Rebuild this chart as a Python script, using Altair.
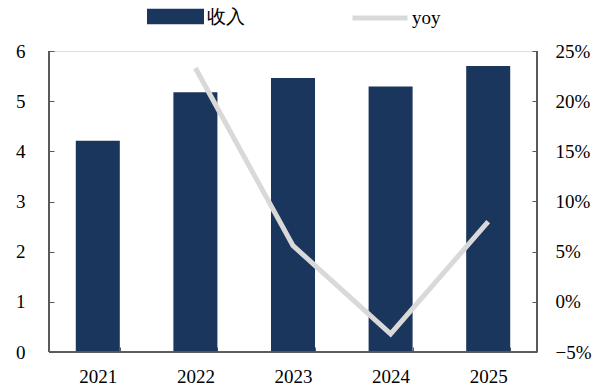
import altair as alt
import pandas as pd

years = ["2021", "2022", "2023", "2024", "2025"]
revenue = [4.21, 5.18, 5.46, 5.29, 5.70]
yoy = [None, 23.3, 5.6, -3.2, 8.0]

NAVY = "#1b365d"
GRAY = "#d9d9d9"
AXC = "#595959"
FONT = "Liberation Serif"
FS = 19
W, H = 488, 301

df = pd.DataFrame({"year": years, "rev": revenue, "yoy": [None if v is None else v / 100 for v in yoy],
                   "s1": "收入", "s2": "yoy"})

xscale = alt.Scale(paddingInner=0.549, paddingOuter=0.2745)
xaxis = alt.Axis(title=None, labelFont=FONT, labelFontSize=FS, labelColor="black",
                 domain=False, tickBand="extent", tickSize=5, offset=-5, tickColor=AXC,
                 labelPadding=15, labelAngle=0, grid=False)

base = alt.Chart(df)

bars = base.mark_bar().encode(
    x=alt.X("year:N", scale=xscale, axis=xaxis),
    y=alt.Y("rev:Q", scale=alt.Scale(domain=[0, 6]),
            axis=alt.Axis(title=None, values=[0, 1, 2, 3, 4, 5, 6], orient="left", offset=-5,
                          tickSize=5, tickColor=AXC, domain=False, grid=False,
                          labelFont=FONT, labelFontSize=FS, labelColor="black", labelPadding=24)),
    color=alt.Color("s1:N", scale=alt.Scale(domain=["收入"], range=[NAVY]),
                    legend=alt.Legend(title=None, orient="none", legendX=98, legendY=-63,
                                      symbolType="M-1,-0.27H1V0.27H-1Z", symbolSize=3249,
                                      symbolStrokeWidth=0, labelFont=FONT, labelFontSize=FS,
                                      labelColor="black", labelOffset=3, padding=0)),
)

line = base.mark_line(strokeWidth=5).encode(
    x=alt.X("year:N", scale=xscale),
    y=alt.Y("yoy:Q", scale=alt.Scale(domain=[-0.05, 0.25]),
            axis=alt.Axis(title=None, values=[-0.05, 0, 0.05, 0.1, 0.15, 0.2, 0.25], format=".0%",
                          orient="right", offset=-5, tickSize=5, tickColor=AXC, domain=False,
                          grid=False, labelFont=FONT, labelFontSize=FS, labelColor="black",
                          labelPadding=18)),
    stroke=alt.Stroke("s2:N", scale=alt.Scale(domain=["yoy"], range=[GRAY]),
                      legend=alt.Legend(title=None, orient="none", legendX=301, legendY=-63,
                                        symbolType="stroke", symbolSize=3025, symbolStrokeWidth=5,
                                        labelFont=FONT, labelFontSize=FS, labelColor="black",
                                        labelOffset=2, padding=0)),
)

frame_l = alt.Chart(df).mark_rule(color=AXC, strokeWidth=1.2).encode(
    x=alt.value(0), y=alt.value(0), y2=alt.value(H))
frame_r = alt.Chart(df).mark_rule(color=AXC, strokeWidth=1.2).encode(
    x=alt.value(W), y=alt.value(0), y2=alt.value(H))
frame_b = alt.Chart(df).mark_rule(color=AXC, strokeWidth=1.2).encode(
    x=alt.value(0), x2=alt.value(W), y=alt.value(H))

chart = alt.layer(bars, line, frame_l, frame_r, frame_b).resolve_scale(
    y="independent", color="independent", stroke="independent"
).properties(
    width=W, height=H,
    autosize=alt.AutoSizeParams(type="none"),
    padding={"left": 49, "top": 51, "right": 72, "bottom": 38},
).configure_view(stroke=None).configure(background="white", font=FONT)

chart.save("out.html", embed_options={"renderer": "svg", "actions": False})
